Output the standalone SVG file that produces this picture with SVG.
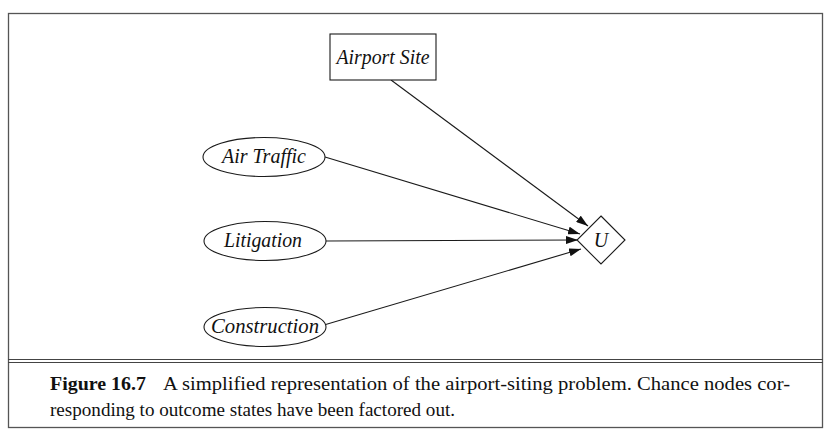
<svg xmlns="http://www.w3.org/2000/svg" width="831" height="438" viewBox="0 0 831 438">
<defs>
<style>
.ln{stroke:#1a1a1a;stroke-width:1.1;fill:none}
.nd{stroke:#1a1a1a;stroke-width:1.1;fill:#fff}
.lb{font-family:'Liberation Serif','Times New Roman',serif;font-style:italic;font-size:20px;fill:#111;text-anchor:middle}
.cap{font-family:'Liberation Serif','Times New Roman',serif;font-size:19px;fill:#111}
</style>
<marker id="ah" viewBox="0 0 12 8" refX="12" refY="4" markerWidth="12" markerHeight="8" markerUnits="userSpaceOnUse" orient="auto">
<path d="M0,0 L12,4 L0,8 Z" fill="#111"/>
</marker>
</defs>
<rect width="831" height="438" fill="#fff"/>
<rect x="8.5" y="13.5" width="814" height="414" fill="none" stroke="#555" stroke-width="1.3"/>
<line x1="8" y1="359.5" x2="823" y2="359.5" stroke="#444" stroke-width="1"/>
<line x1="8" y1="362.5" x2="823" y2="362.5" stroke="#444" stroke-width="1"/>
<g id="connectors">
<line class="ln" x1="391" y1="80" x2="588" y2="226" marker-end="url(#ah)"/>
<line class="ln" x1="325" y1="157" x2="580" y2="234" marker-end="url(#ah)"/>
<line class="ln" x1="326" y1="241" x2="578" y2="240" marker-end="url(#ah)"/>
<line class="ln" x1="324" y1="325" x2="581" y2="249" marker-end="url(#ah)"/>
</g>
<g id="airport-site">
<rect class="nd" x="330" y="34" width="106" height="46"/>
<text class="lb" x="383" y="64" textLength="93" lengthAdjust="spacingAndGlyphs">Airport Site</text>
</g>
<g id="air-traffic">
<ellipse class="nd" cx="264" cy="157" rx="61" ry="19.5"/>
<text class="lb" x="264" y="163" textLength="84" lengthAdjust="spacingAndGlyphs">Air Traffic</text>
</g>
<g id="litigation">
<ellipse class="nd" cx="265" cy="241" rx="61" ry="19.5"/>
<text class="lb" x="263" y="247" textLength="78" lengthAdjust="spacingAndGlyphs">Litigation</text>
</g>
<g id="construction">
<ellipse class="nd" cx="265" cy="327" rx="61" ry="19.5"/>
<text class="lb" x="265" y="333" textLength="108" lengthAdjust="spacingAndGlyphs">Construction</text>
</g>
<g id="u">
<polygon class="nd" points="601,216 625,240 601,264 577,240"/>
<text class="lb" x="601" y="247">U</text>
</g>
<g id="caption">
<text class="cap" x="50" y="390" font-weight="bold" textLength="96" lengthAdjust="spacingAndGlyphs">Figure 16.7</text>
<text class="cap" x="163" y="390" textLength="627" lengthAdjust="spacingAndGlyphs">A simplified representation of the airport-siting problem.  Chance nodes cor-</text>
<text class="cap" x="50" y="416" textLength="405" lengthAdjust="spacingAndGlyphs">responding to outcome states have been factored out.</text>
</g>
</svg>
